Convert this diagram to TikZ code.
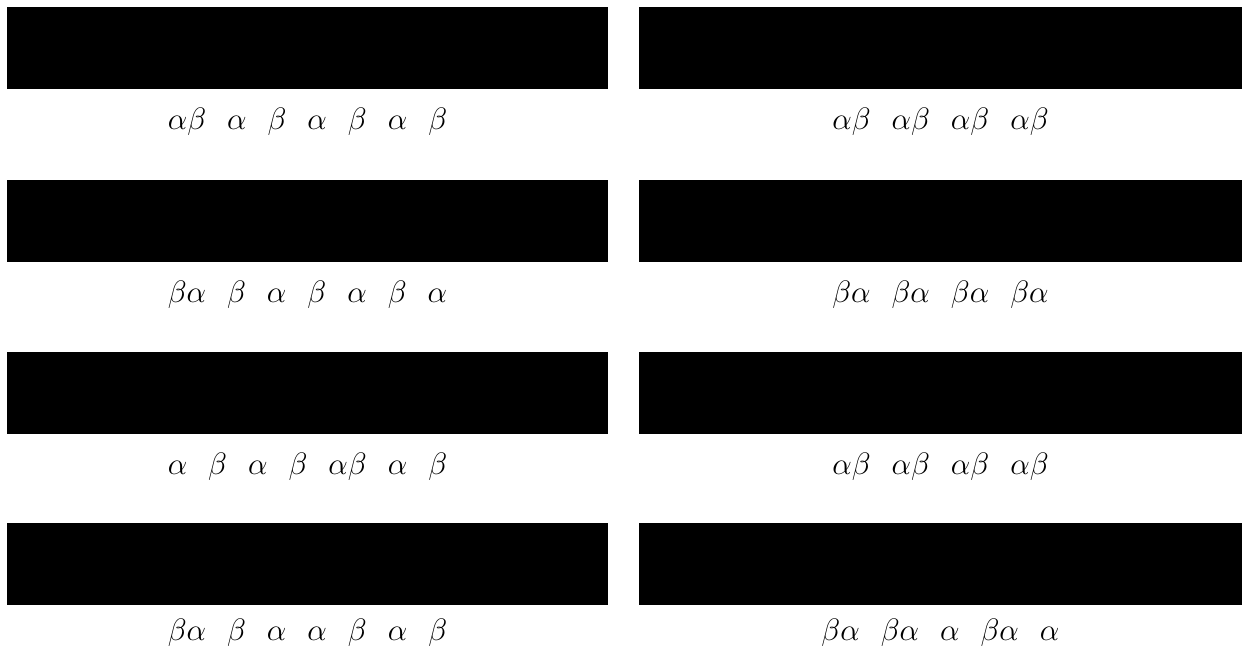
\documentclass[tikz,border=0pt]{standalone}
\usepackage{fix-cm}
\usetikzlibrary{positioning}
\newcommand{\gp}{\hspace{21pt}}
\tikzset{
  bar/.style={fill=black,draw=none,inner sep=0pt,outer sep=0pt,minimum height=82pt},
  barl/.style={bar,minimum width=601pt},
  barr/.style={bar,minimum width=603pt},
  lbl/.style={inner sep=0pt,font=\fontsize{31}{36}\selectfont}
}
\begin{document}
\begin{tikzpicture}[x=1pt,y=-1pt]
  \useasboundingbox (0,0) rectangle (1244,649);
  % left column
  \node[barl] (l1) at (307.5,48) {};
  \node[barl] (l2) at (307.5,221) {};
  \node[barl] (l3) at (307.5,393) {};
  \node[barl] (l4) at (307.5,564) {};
  % right column
  \node[barr] (r1) at (940.5,48) {};
  \node[barr] (r2) at (940.5,221) {};
  \node[barr] (r3) at (940.5,393) {};
  \node[barr] (r4) at (940.5,564) {};
  % labels
  \node[lbl,below=19pt of l1] (tl1) {$\alpha\beta\gp\alpha\gp\beta\gp\alpha\gp\beta\gp\alpha\gp\beta$};
  \node[lbl,below=19pt of l2] (tl2) {$\beta\alpha\gp\beta\gp\alpha\gp\beta\gp\alpha\gp\beta\gp\alpha$};
  \node[lbl,below=19pt of l3] (tl3) {$\alpha\gp\beta\gp\alpha\gp\beta\gp\alpha\beta\gp\alpha\gp\beta$};
  \node[lbl,below=14pt of l4] (tl4) {$\beta\alpha\gp\beta\gp\alpha\gp\alpha\gp\beta\gp\alpha\gp\beta$};
  \node[lbl,below=19pt of r1] (tr1) {$\alpha\beta\gp\alpha\beta\gp\alpha\beta\gp\alpha\beta$};
  \node[lbl,below=19pt of r2] (tr2) {$\beta\alpha\gp\beta\alpha\gp\beta\alpha\gp\beta\alpha$};
  \node[lbl,below=19pt of r3] (tr3) {$\alpha\beta\gp\alpha\beta\gp\alpha\beta\gp\alpha\beta$};
  \node[lbl,below=14pt of r4] (tr4) {$\beta\alpha\gp\beta\alpha\gp\alpha\gp\beta\alpha\gp\alpha$};
\end{tikzpicture}
\end{document}
